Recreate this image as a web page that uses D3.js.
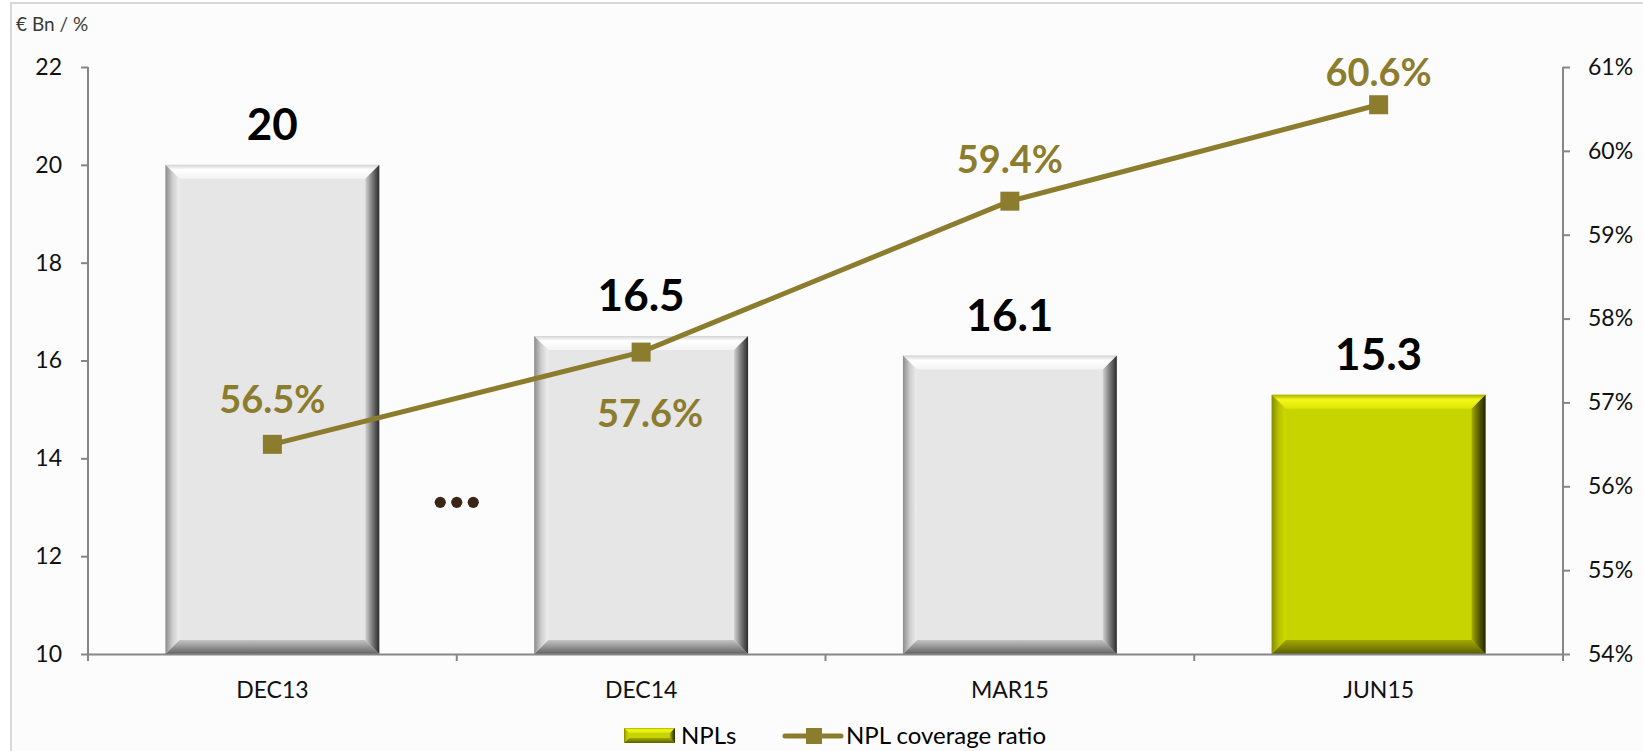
<!DOCTYPE html>
<html>
<head>
<meta charset="utf-8">
<script src="https://cdn.jsdelivr.net/npm/d3@7"></script>
<style>
  html, body { margin: 0; padding: 0; background: #ffffff; }
  svg { display: block; }
  text { font-family: Lato, "Open Sans", sans-serif; }
</style>
</head>
<body>
<svg id="chart" width="1643" height="751"></svg>
<script>
// ---- data ----
const categories = ["DEC13", "DEC14", "MAR15", "JUN15"];
const npls = [20, 16.5, 16.1, 15.3];
const nplLabels = ["20", "16.5", "16.1", "15.3"];
const coverage = [56.5, 57.6, 59.4, 60.55];
const coverageLabels = ["56.5%", "57.6%", "59.4%", "60.6%"];
const leftTicks = [10, 12, 14, 16, 18, 20, 22];
const rightTicks = [54, 55, 56, 57, 58, 59, 60, 61];
const highlight = [false, false, false, true];
const unitLabel = "€ Bn / %";
const legendNames = ["NPLs", "NPL coverage ratio"];
const ellipsisValue = 13.1; // left-axis level of the "..." gap marker

// ---- layout (not data) ----
const covLabelDx = [0, 9, 0, 0];
const covLabelDy = [-31, 75, -28, -19];

const W = 1643, H = 751;
const svg = d3.select("#chart");
const defs = svg.append("defs");

// background and frame
svg.append("rect").attr("x", 11).attr("y", 3).attr("width", W + 10).attr("height", H + 10)
  .attr("fill", "#fcfcfc").attr("stroke", "#d9d9d9").attr("stroke-width", 2);

const x = d3.scaleBand().domain(categories).range([88, 1563]).paddingInner(0.42).paddingOuter(0.21);
const yL = d3.scaleLinear().domain([10, 22]).range([654, 67]);
const yR = d3.scaleLinear().domain([54, 61]).range([654, 67]);

const axisColor = "#868686";
const lineColor = "#8c7c2e";

// gradients
function lin(id, x1, y1, x2, y2, stops) {
  const g = defs.append("linearGradient").attr("id", id)
    .attr("x1", x1).attr("y1", y1).attr("x2", x2).attr("y2", y2);
  stops.forEach(s => g.append("stop").attr("offset", s[0]).attr("stop-color", s[1]));
}
const palettes = {
  gray: {
    face: "#e6e6e6",
    top: [[0, "#d4d4d4"], [0.35, "#ffffff"], [1, "#f3f3f3"]],
    left: [[0, "#8c8c8c"], [0.5, "#cdcdcd"], [1, "#eeeeee"]],
    right: [[0, "#d2d2d2"], [0.5, "#7a7a7a"], [1, "#2a2a2a"]],
    bottom: [[0, "#c4c4c4"], [0.6, "#8a8a8a"], [1, "#626262"]]
  },
  green: {
    face: "#c7d400",
    top: [[0, "#a8b000"], [0.35, "#f2f81a"], [1, "#dde600"]],
    left: [[0, "#858c00"], [0.5, "#b8c200"], [1, "#cfda00"]],
    right: [[0, "#a6ae00"], [0.5, "#5c6000"], [1, "#262600"]],
    bottom: [[0, "#a2a800"], [0.6, "#7a7e00"], [1, "#585b00"]]
  }
};
Object.entries(palettes).forEach(([k, p]) => {
  lin("top-" + k, 0, 0, 0, 1, p.top);
  lin("left-" + k, 0, 0, 1, 0, p.left);
  lin("right-" + k, 0, 0, 1, 0, p.right);
  lin("bottom-" + k, 0, 0, 0, 1, p.bottom);
});

function bevelRect(g, x0, y0, w, h, b, key) {
  const p = palettes[key];
  const x1 = x0 + w, y1 = y0 + h;
  g.append("rect").attr("x", x0).attr("y", y0).attr("width", w).attr("height", h).attr("fill", p.face);
  const poly = (pts, fill) => g.append("polygon").attr("points", pts.map(q => q.join(",")).join(" ")).attr("fill", fill);
  poly([[x0, y0], [x1, y0], [x1 - b, y0 + b], [x0 + b, y0 + b]], `url(#top-${key})`);
  poly([[x0, y1], [x1, y1], [x1 - b, y1 - b], [x0 + b, y1 - b]], `url(#bottom-${key})`);
  poly([[x0, y0], [x0 + b, y0 + b], [x0 + b, y1 - b], [x0, y1]], `url(#left-${key})`);
  poly([[x1, y0], [x1 - b, y0 + b], [x1 - b, y1 - b], [x1, y1]], `url(#right-${key})`);
}

// unit label
svg.append("text").attr("x", 16).attr("y", 31).attr("font-size", 19).attr("fill", "#3a3a3a").text(unitLabel);

// bars
const barsG = svg.append("g");
categories.forEach((c, i) => {
  const g = barsG.append("g");
  const y0 = yL(npls[i]);
  bevelRect(g, x(c), y0, x.bandwidth(), yL(10) - y0, 14, highlight[i] ? "green" : "gray");
});

// axes
const leftAxis = svg.append("g").attr("transform", `translate(88,0)`)
  .call(d3.axisLeft(yL).tickValues(leftTicks).tickSize(7).tickPadding(19).tickSizeOuter(0));
const rightAxis = svg.append("g").attr("transform", `translate(1563,0)`)
  .call(d3.axisRight(yR).tickValues(rightTicks).tickFormat(d => d + "%").tickSize(7).tickPadding(18).tickSizeOuter(0));
const bottomAxis = svg.append("g").attr("transform", `translate(0,654)`)
  .call(d3.axisBottom(x).tickSize(0).tickPadding(28).tickSizeOuter(0));
[leftAxis, rightAxis, bottomAxis].forEach(a => {
  a.select(".domain").attr("stroke", axisColor).attr("stroke-width", 2);
  a.selectAll(".tick line").attr("stroke", axisColor).attr("stroke-width", 2);
  a.selectAll(".tick text").attr("font-size", 23).attr("fill", "#111").attr("font-family", "Lato, sans-serif");
});
leftAxis.select(".domain").attr("d", `M0,${yL(22)}V${yL(10) + 7}`);
rightAxis.select(".domain").attr("d", `M0,${yR(61)}V${yR(54) + 7}`);
bottomAxis.selectAll(".tick text").attr("dy", "0.71em");
// category boundary ticks
const boundaries = d3.range(1, categories.length).map(i => x.range()[0] + i * x.step());
svg.append("g").selectAll("line").data(boundaries).join("line")
  .attr("x1", d => d).attr("x2", d => d).attr("y1", 654).attr("y2", 661)
  .attr("stroke", axisColor).attr("stroke-width", 2);

// bar value labels
svg.append("g").selectAll("text").data(categories).join("text")
  .attr("x", d => x(d) + x.bandwidth() / 2)
  .attr("y", (d, i) => yL(npls[i]) - 25)
  .attr("text-anchor", "middle").attr("font-size", 44).attr("font-weight", 700).attr("fill", "#000")
  .text((d, i) => nplLabels[i]);

// ellipsis gap marker
const gapX = boundaries[0];
svg.append("g").selectAll("circle").data([-16.5, 0, 16.5]).join("circle")
  .attr("cx", d => gapX + d).attr("cy", yL(ellipsisValue)).attr("r", 5.6).attr("fill", "#3b2616");

// coverage line
const cx = c => x(c) + x.bandwidth() / 2;
const line = d3.line().x((d, i) => cx(categories[i])).y(d => yR(d));
svg.append("path").datum(coverage).attr("d", line).attr("fill", "none")
  .attr("stroke", lineColor).attr("stroke-width", 5);
svg.append("g").selectAll("rect").data(coverage).join("rect")
  .attr("x", (d, i) => cx(categories[i]) - 9.5).attr("y", d => yR(d) - 9.5)
  .attr("width", 19).attr("height", 19).attr("fill", lineColor);
svg.append("g").selectAll("text").data(coverage).join("text")
  .attr("x", (d, i) => cx(categories[i]) + covLabelDx[i])
  .attr("y", (d, i) => yR(d) + covLabelDy[i])
  .attr("text-anchor", "middle").attr("font-size", 38).attr("font-weight", 700).attr("fill", lineColor)
  .text((d, i) => coverageLabels[i]);

// legend
const leg = svg.append("g");
const lg = leg.append("g");
bevelRect(lg, 624, 728, 51, 15, 5, "green");
leg.append("text").attr("x", 681).attr("y", 744).attr("font-size", 24).attr("fill", "#000").text(legendNames[0]);
leg.append("line").attr("x1", 785).attr("x2", 841).attr("y1", 736).attr("y2", 736)
  .attr("stroke", lineColor).attr("stroke-width", 5).attr("stroke-linecap", "round");
leg.append("rect").attr("x", 806).attr("y", 728).attr("width", 16).attr("height", 16).attr("fill", lineColor);
leg.append("text").attr("x", 846).attr("y", 744).attr("font-size", 24).attr("fill", "#000").text(legendNames[1]);
</script>
</body>
</html>
